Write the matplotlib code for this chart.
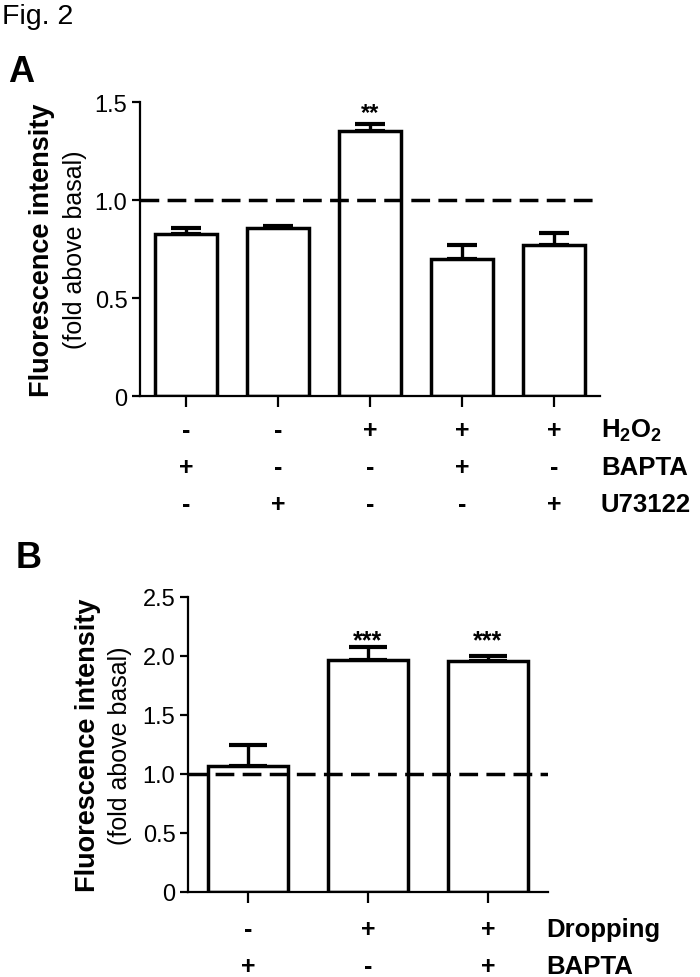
import matplotlib
matplotlib.use("Agg")
import matplotlib.pyplot as plt
from matplotlib.transforms import blended_transform_factory
import numpy as np

plt.rcParams['font.family'] = ['Liberation Sans', 'DejaVu Sans']
plt.rcParams['mathtext.fontset'] = 'custom'
plt.rcParams['mathtext.rm'] = 'Liberation Sans'
plt.rcParams['mathtext.bf'] = 'Liberation Sans:bold'

# ---- data panel A ----
a_means = [0.826, 0.855, 1.350, 0.699, 0.770]
a_errs = [0.031, 0.012, 0.038, 0.073, 0.060]
a_stars = ['', '', '**', '', '']
a_rows = ['$\\mathbf{H_2O_2}$', 'BAPTA', 'U73122']
a_signs = [['-', '-', '+', '+', '+'],
           ['+', '-', '-', '+', '-'],
           ['-', '+', '-', '-', '+']]
a_yticks = [0, 0.5, 1.0, 1.5]
a_yticklabels = ['0', '0.5', '1.0', '1.5']

# ---- data panel B ----
b_means = [1.066, 1.962, 1.955]
b_errs = [0.184, 0.118, 0.045]
b_stars = ['', '***', '***']
b_rows = ['Dropping', 'BAPTA']
b_signs = [['-', '+', '+'],
           ['+', '-', '+']]
b_yticks = [0, 0.5, 1.0, 1.5, 2.0, 2.5]
b_yticklabels = ['0', '0.5', '1.0', '1.5', '2.0', '2.5']

W, H = 700, 978
fig = plt.figure(figsize=(W / 100, H / 100), dpi=100)

def fy(py):
    return 1 - py / H

def panel(rect, means, errs, stars, rows, signs, yticks, yticklabels, ymax,
          row_py, label_px, star_val, capsize, ylab_x, star_fs):
    ax = fig.add_axes(rect)
    n = len(means)
    x = np.arange(n)
    ax.bar(x, means, width=0.67, color='white', edgecolor='black',
           linewidth=2.5, zorder=2)
    ax.errorbar(x, means, yerr=[np.zeros(n), errs], fmt='none',
                ecolor='black', elinewidth=2.4, capsize=capsize,
                capthick=3.0, zorder=1)
    ax.axhline(1.0, color='black', linewidth=2.5, dashes=(5.4, 2.4), zorder=3)
    for xi, s in zip(x, stars):
        if s:
            ax.text(xi, star_val, s, ha='center', va='baseline',
                    fontsize=star_fs, fontweight='bold')
    ax.set_xlim(-0.5, n - 0.5)
    ax.set_ylim(0, ymax)
    ax.set_xticks(x)
    ax.set_xticklabels([''] * n)
    ax.set_yticks(yticks)
    ax.set_yticklabels(yticklabels, fontsize=17)
    for sp in ['top', 'right']:
        ax.spines[sp].set_visible(False)
    for sp in ['left', 'bottom']:
        ax.spines[sp].set_linewidth(1.6)
    ax.tick_params(axis='x', direction='out', length=8, width=1.6)
    ax.tick_params(axis='y', direction='out', length=6, width=1.6, pad=3)
    tr = blended_transform_factory(ax.transData, fig.transFigure)
    for r, (name, row) in enumerate(zip(rows, signs)):
        for xi, s in zip(x, row):
            ax.text(xi, fy(row_py[r]), s, transform=tr, ha='center',
                    va='baseline', fontsize=18, fontweight='bold')
        fig.text(label_px / W, fy(row_py[r]), name, ha='left', va='baseline',
                 fontsize=18.5, fontweight='bold')
    cy = rect[1] + rect[3] / 2
    fig.text(ylab_x[0] / W, cy, 'Fluorescence intensity', rotation=90,
             ha='center', va='center', fontsize=19.5, fontweight='bold')
    fig.text(ylab_x[1] / W, cy, '(fold above basal)', rotation=90,
             ha='center', va='center', fontsize=18)
    return ax

panel([140 / W, fy(397), 460 / W, (397 - 103) / H], a_means, a_errs, a_stars,
      a_rows, a_signs, a_yticks, a_yticklabels, 1.5,
      [438, 475, 512], 601, 1.415, 11, (42, 75), 17)

panel([188 / W, fy(893), 360 / W, (893 - 598) / H], b_means, b_errs, b_stars,
      b_rows, b_signs, b_yticks, b_yticklabels, 2.5,
      [937, 974], 546, 2.07, 14, (88, 120), 18)

fig.text(2 / W, fy(24), 'Fig. 2', ha='left', va='baseline', fontsize=20.5)
fig.text(8 / W, fy(82), 'A', ha='left', va='baseline', fontsize=26,
         fontweight='bold')
fig.text(16 / W, fy(568), 'B', ha='left', va='baseline', fontsize=26,
         fontweight='bold')

fig.savefig('out.png', dpi=100)
